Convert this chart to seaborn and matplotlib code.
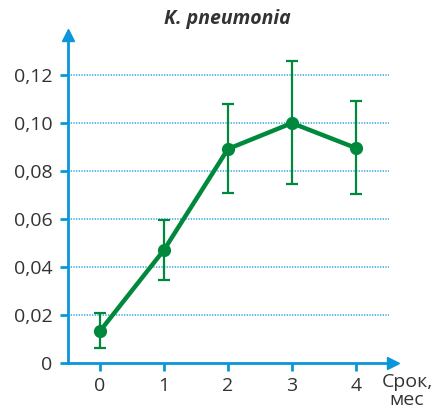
import matplotlib
matplotlib.use("Agg")
import matplotlib.pyplot as plt
import seaborn as sns
import numpy as np
import pandas as pd

# Data
months = [0, 1, 2, 3, 4]
values = [0.0133, 0.0471, 0.0892, 0.1000, 0.0896]
err_low = [0.0071, 0.0125, 0.0184, 0.0254, 0.0192]
err_high = [0.0075, 0.0125, 0.0187, 0.0258, 0.0196]
yticks = [0, 0.02, 0.04, 0.06, 0.08, 0.10, 0.12]
ytick_labels = ["0", "0,02", "0,04", "0,06", "0,08", "0,10", "0,12"]
xtick_labels = ["0", "1", "2", "3", "4"]
title = "K. pneumonia"
xlabel = "Срок,\nмес"

BLUE = "#0a96d8"
GRID = "#2aa6e0"
GREEN = "#00893c"
TEXT = "#333333"

sns.set_style("white")
plt.rcParams["font.family"] = ["Open Sans", "DejaVu Sans"]

fig = plt.figure(figsize=(4.33, 4.12), dpi=100)
ax = fig.add_axes([68 / 433, 49 / 412, (393 - 68) / 433, 328 / 412])

df = pd.DataFrame({"month": months, "value": values})

# grid lines
for yt in yticks[1:]:
    ax.plot([-0.5, 4.52], [yt, yt], color=GRID, lw=1.2, ls=(0, (0.8, 0.8)),
            zorder=1, alpha=0.9)

ax.errorbar(months, values, yerr=[err_low, err_high], fmt="none", ecolor=GREEN,
            elinewidth=1.6, capsize=4.5, capthick=1.6, zorder=3)
sns.lineplot(data=df, x="month", y="value", ax=ax, color=GREEN, lw=3.2,
             marker="o", markersize=9.5, markeredgewidth=0, zorder=4)

ax.set_xlim(-0.5, 4.58)
ax.set_ylim(0, 0.1367)

for s in ["top", "right"]:
    ax.spines[s].set_visible(False)
for s in ["left", "bottom"]:
    ax.spines[s].set_color(BLUE)
    ax.spines[s].set_linewidth(2.0)

ax.set_yticks(yticks)
ax.set_yticklabels(ytick_labels)
ax.set_xticks(months)
ax.set_xticklabels(xtick_labels)
ax.tick_params(axis="y", length=6, width=2, color=BLUE, labelsize=14,
               labelcolor=TEXT, pad=5, left=True)
ax.tick_params(axis="x", length=6, width=2, color=BLUE, labelsize=14,
               labelcolor=TEXT, pad=4, bottom=True)
ax.set_xlabel("")
ax.set_ylabel("")

# arrow heads
ax.plot(1, 0, marker=">", color=BLUE, markersize=8, transform=ax.transAxes,
        clip_on=False, zorder=5)
ax.plot(0, 1, marker="^", color=BLUE, markersize=8, transform=ax.transAxes,
        clip_on=False, zorder=5)

fig.text(227 / 433, 1 - 19 / 412, title, ha="center", va="center", fontsize=14,
         fontweight="bold", style="italic", color=TEXT)
fig.text(407 / 433, 1 - 391 / 412, xlabel, ha="center", va="center",
         fontsize=14, color=TEXT, linespacing=0.95)

fig.savefig("out.png", dpi=100)
